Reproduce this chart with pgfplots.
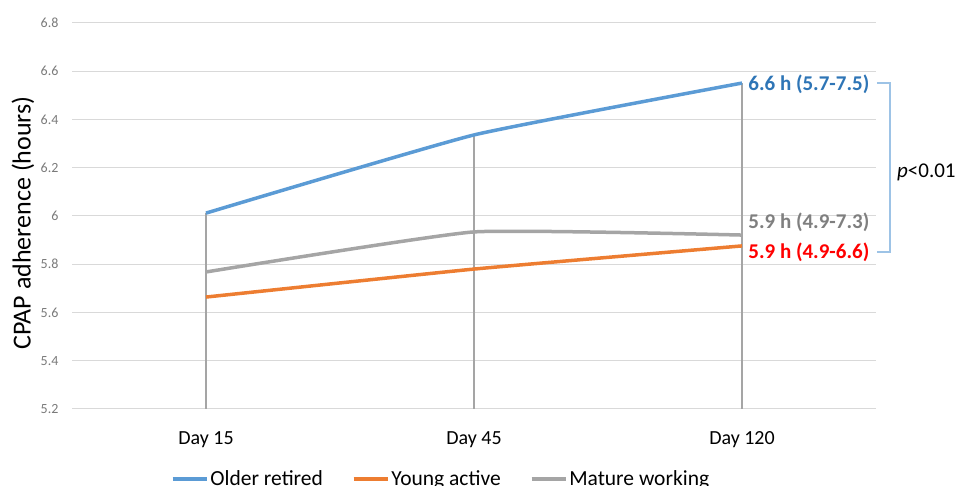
\documentclass[border=0pt]{standalone}
\usepackage{pgfplots}
\pgfplotsset{compat=1.18}
\usepackage{fontspec}
\setmainfont{Carlito}
\definecolor{cblue}{HTML}{5B9BD5}
\definecolor{corange}{HTML}{ED7D31}
\definecolor{cgray}{HTML}{A5A5A5}
\definecolor{tblue}{HTML}{2E75B6}
\definecolor{tgray}{HTML}{7F7F7F}
\definecolor{tred}{HTML}{FF0000}
\definecolor{gridc}{HTML}{D9D9D9}
\definecolor{tickc}{HTML}{7A7A7A}
\definecolor{brk}{HTML}{9DC3E6}
\begin{document}
\begin{tikzpicture}
\useasboundingbox (0,0) rectangle (958pt,486pt);
\begin{axis}[
  at={(72pt,77pt)}, anchor=south west,
  scale only axis, width=804pt, height=386pt,
  xmin=-0.5, xmax=2.5, ymin=5.2, ymax=6.8,
  xtick={0,1,2}, xticklabels={Day 15, Day 45, Day 120},
  ytick={5.2,5.4,5.6,5.8,6,6.2,6.4,6.6,6.8},
  yticklabels={5.2,5.4,5.6,5.8,6,6.2,6.4,6.6,6.8},
  axis line style={draw=none},
  major tick length=0pt,
  ymajorgrids, grid style={gridc, line width=1pt},
  xticklabel style={font=\fontsize{20}{24}\selectfont, text=black, yshift=-19pt},
  yticklabel style={font=\fontsize{14}{16}\selectfont, text=tickc, xshift=-10pt},
  ylabel={CPAP adherence (hours)},
  ylabel style={font=\fontsize{26}{30}\selectfont, at={(axis description cs:-0.061,0.482)}, anchor=center},
  clip=false,
  legend columns=3,
  legend style={draw=none, fill=none, at={(0.459,-0.181)}, anchor=center,
    font=\fontsize{21.5}{24}\selectfont, inner sep=0pt,
    /tikz/every even column/.append style={column sep=27pt}},
  legend cell align=left,
  legend image code/.code={\draw[#1] (0pt,0pt) -- (34pt,0pt);},
]
\addplot[ycomb, draw=cgray, line width=1.5pt, forget plot, no markers]
  coordinates {(0,6.012) (1,6.336) (2,6.551)};
\addplot[draw=cblue, line width=3.5pt, smooth, tension=0.25, no markers]
  coordinates {(0,6.012) (1,6.336) (2,6.551)};
\addlegendentry{Older retired}
\addplot[draw=corange, line width=3.5pt, smooth, tension=0.25, no markers]
  coordinates {(0,5.664) (1,5.780) (2,5.876)};
\addlegendentry{Young active}
\addplot[draw=cgray, line width=3.5pt, smooth, tension=0.25, no markers]
  coordinates {(0,5.768) (1,5.934) (2,5.921)};
\addlegendentry{Mature working}
\node[anchor=west, text=tblue, font=\bfseries\fontsize{21}{24}\selectfont, inner sep=0pt] at (axis cs:2.023,6.545) {6.6 h (5.7-7.5)};
\node[anchor=west, text=tgray, font=\bfseries\fontsize{21}{24}\selectfont, inner sep=0pt] at (axis cs:2.023,5.972) {5.9 h (4.9-7.3)};
\node[anchor=west, text=tred, font=\bfseries\fontsize{21}{24}\selectfont, inner sep=0pt] at (axis cs:2.023,5.851) {5.9 h (4.9-6.6)};
\draw[brk, line width=1.2pt] (axis cs:2.503,6.551) -- (axis cs:2.552,6.551) -- (axis cs:2.552,5.851) -- (axis cs:2.503,5.851);
\node[anchor=west, font=\fontsize{21}{24}\selectfont, inner sep=0pt] at (axis cs:2.578,6.18) {\textit{p}<0.01};
\end{axis}
\end{tikzpicture}
\end{document}
